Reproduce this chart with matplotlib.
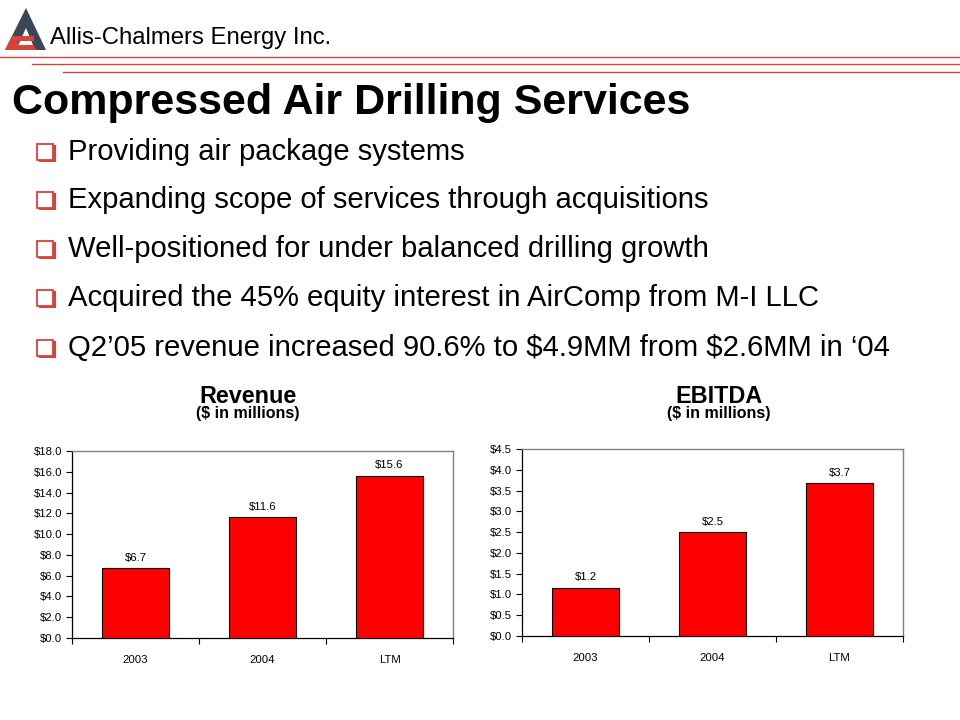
import matplotlib
matplotlib.use("Agg")
import matplotlib.pyplot as plt
from matplotlib.patches import Polygon, Rectangle
from matplotlib.lines import Line2D

plt.rcParams['font.family'] = ['Liberation Sans', 'DejaVu Sans']

categories = ["2003", "2004", "LTM"]
revenue = [6.7, 11.6, 15.6]
ebitda = [1.16, 2.5, 3.67]
revenue_ticks = [0, 2, 4, 6, 8, 10, 12, 14, 16, 18]
ebitda_ticks = [0, 0.5, 1.0, 1.5, 2.0, 2.5, 3.0, 3.5, 4.0, 4.5]
bullets = [
    "Providing air package systems",
    "Expanding scope of services through acquisitions",
    "Well-positioned for under balanced drilling growth",
    "Acquired the 45% equity interest in AirComp from M-I LLC",
    "Q2\u201905 revenue increased 90.6% to $4.9MM from $2.6MM in \u201804",
]

W, H = 960, 720
fig = plt.figure(figsize=(9.6, 7.2), dpi=100)
fig.patch.set_facecolor("white")

def fx(x):
    return x / W

def fy(y):
    return 1 - y / H

RED = "#d9423a"
# header lines
for y, x0 in [(57, 0), (64, 32), (72, 63)]:
    fig.add_artist(Line2D([fx(x0), 1], [fy(y), fy(y)], color=RED, lw=1.0))

# logo
tri = Polygon([(fx(5), fy(50)), (fx(26), fy(8)), (fx(46), fy(50))], closed=True,
              facecolor="#3b4757", edgecolor="none")
fig.add_artist(tri)
inner = Polygon([(fx(16), fy(50)), (fx(26), fy(28)), (fx(35), fy(50))], closed=True,
                facecolor="white", edgecolor="none")
fig.add_artist(inner)
red_shape = Polygon([(fx(5), fy(50)), (fx(12), fy(36)), (fx(34), fy(36)), (fx(34), fy(41)),
                     (fx(18), fy(41)), (fx(18), fy(45)), (fx(34), fy(45)), (fx(36), fy(50))],
                    closed=True, facecolor=RED, edgecolor="none")
fig.add_artist(red_shape)

fig.text(fx(50), fy(38), "Allis-Chalmers Energy Inc.", fontsize=17.2, va="center", ha="left",
         color="black", parse_math=False)

# title
fig.text(fx(12), fy(103), "Compressed Air Drilling Services", fontsize=31,
         fontweight="bold", va="center", ha="left", parse_math=False)

# bullets
bullet_y = [152, 200, 249, 298, 348]
for y, txt in zip(bullet_y, bullets):
    fig.add_artist(Rectangle((fx(39), fy(y + 10)), fx(17), 17 / H, facecolor=RED,
                             edgecolor="none"))
    fig.add_artist(Rectangle((fx(37), fy(y + 8)), fx(16), 16 / H, facecolor="white",
                             edgecolor=RED, lw=1.3))
    fig.text(fx(68), fy(y), txt, fontsize=21.1, va="center", ha="left", parse_math=False)

# chart titles
fig.text(fx(248), fy(396), "Revenue", fontsize=16.8, fontweight="bold", ha="center",
         va="center", parse_math=False)
fig.text(fx(248), fy(414), "($ in millions)", fontsize=11.5, fontweight="bold", ha="center",
         va="center", parse_math=False)
fig.text(fx(719), fy(396), "EBITDA", fontsize=16.8, fontweight="bold", ha="center",
         va="center", parse_math=False)
fig.text(fx(719), fy(414), "($ in millions)", fontsize=11.5, fontweight="bold", ha="center",
         va="center", parse_math=False)


def make_chart(rect, values, ticks, fmt_tick, fmt_label):
    ax = fig.add_axes(rect)
    x = list(range(len(categories)))
    ax.bar(x, values, width=0.52, color="#ff0000", edgecolor="black", linewidth=0.8, zorder=3)
    ax.set_xlim(-0.5, len(categories) - 0.5)
    ax.set_ylim(ticks[0], ticks[-1])
    ax.set_yticks(ticks)
    ax.set_yticklabels([fmt_tick(t) for t in ticks], fontsize=8.2)
    ax.set_xticks([-0.5, 0.5, 1.5, 2.5])
    ax.set_xticklabels([])
    ax.set_xticks(x, minor=True)
    ax.set_xticklabels(categories, minor=True, fontsize=8.2)
    ax.tick_params(axis="x", which="minor", length=0, pad=12)
    ax.tick_params(axis="x", which="major", length=4, direction="out", width=0.8)
    ax.tick_params(axis="y", length=4, direction="out", width=0.8, pad=3)
    for s in ["top", "right"]:
        ax.spines[s].set_color("#808080")
        ax.spines[s].set_linewidth(1.0)
    for s in ["left", "bottom"]:
        ax.spines[s].set_color("black")
        ax.spines[s].set_linewidth(0.9)
    span = ticks[-1] - ticks[0]
    for xi, v in zip(x, values):
        ax.text(xi, v + span * 0.03, fmt_label(v), ha="center", va="bottom", fontsize=8.2,
                parse_math=False)
    return ax


make_chart([fx(72), 1 - 638 / H, (453 - 72) / W, (638 - 451) / H], revenue, revenue_ticks,
           lambda t: f"${t:.1f}", lambda v: f"${v:.1f}")
make_chart([fx(522), 1 - 636 / H, (903 - 522) / W, (636 - 449) / H], ebitda, ebitda_ticks,
           lambda t: f"${t:.1f}", lambda v: f"${v:.1f}")

fig.savefig("out.png", dpi=100, facecolor="white")
